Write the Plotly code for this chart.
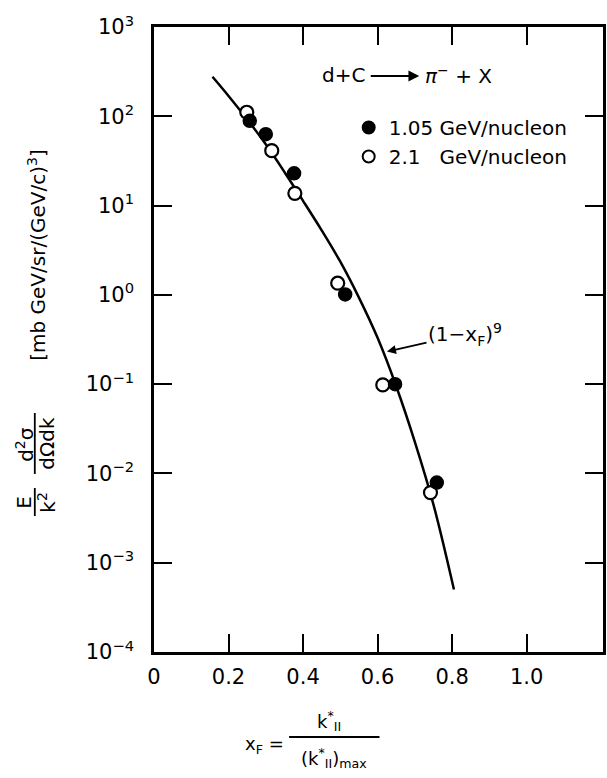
import plotly.graph_objects as go

# ---------------- data ----------------
# filled circles: 1.05 GeV/nucleon
xf_105 = [0.257, 0.300, 0.376, 0.513, 0.647, 0.759]
sig_105 = [89, 63, 23, 1.01, 0.100, 0.0079]
# open circles: 2.1 GeV/nucleon
xf_21 = [0.249, 0.316, 0.378, 0.493, 0.614, 0.742]
sig_21 = [111, 41.2, 13.7, 1.35, 0.098, 0.0061]
# curve (1 - x_F)^9
curve_x = [0.157, 0.20, 0.25, 0.30, 0.35, 0.40, 0.45, 0.50, 0.55, 0.60, 0.65, 0.70, 0.75, 0.805]
curve_y = [277, 169, 92.5, 48.5, 23.8, 11.3, 5.28, 2.35, 0.931, 0.330, 0.0948, 0.0226, 0.00448, 0.000501]

x_tickvals = [0, 0.2, 0.4, 0.6, 0.8, 1.0]
x_ticktext = ["0", "0.2", "0.4", "0.6", "0.8", "1.0"]
y_tickvals = [1e-4, 1e-3, 1e-2, 1e-1, 1e0, 1e1, 1e2, 1e3]
y_ticktext = ["10<sup>\u22124</sup>", "10<sup>\u22123</sup>", "10<sup>\u22122</sup>", "10<sup>\u22121</sup>",
              "10<sup>0</sup>", "10<sup>1</sup>", "10<sup>2</sup>", "10<sup>3</sup>"]

FONT = "DejaVu Sans"
W, H = 607, 778
L, R, T, B = 154, 1, 27, 126
PW, PH = W - L - R, H - T - B


def px(x):
    return (x - L) / PW


def py(y):
    return (H - B - y) / PH


fig = go.Figure()
fig.add_trace(go.Scatter(x=curve_x, y=curve_y, mode="lines", line=dict(color="black", width=2.5, shape="spline"),
                         showlegend=False, hoverinfo="skip"))
fig.add_trace(go.Scatter(x=xf_21, y=sig_21, mode="markers", name="2.1\u00a0\u00a0\u00a0GeV/nucleon",
                         marker=dict(symbol="circle", size=13, color="white", line=dict(color="black", width=2.2)),
                         legendrank=2))
fig.add_trace(go.Scatter(x=xf_105, y=sig_105, mode="markers", name="1.05 GeV/nucleon",
                         marker=dict(symbol="circle", size=13, color="black", line=dict(color="black", width=1.5)),
                         legendrank=1))

axis_common = dict(showline=True, linecolor="black", linewidth=2.5, mirror="ticks", ticks="inside",
                   ticklen=18, tickwidth=2, tickcolor="black", showgrid=False, zeroline=False,
                   tickfont=dict(family=FONT, size=21, color="black"))

fig.update_xaxes(range=[0.0, 1.205], tickvals=x_tickvals, ticktext=x_ticktext, ticklabelstandoff=4, **axis_common)
fig.update_yaxes(type="log", range=[-4, 3], tickvals=y_tickvals, ticktext=y_ticktext, ticklabelstandoff=13,
                 **axis_common)

ann = []
shapes = []
tf = dict(family=FONT, size=20, color="black")
C = dict(xanchor="center", yanchor="middle")
PAR = "II"

# reaction label
ann.append(dict(xref="paper", yref="paper", x=px(345), y=py(75), text="d+C", showarrow=False, font=tf, **C))
ann.append(dict(xref="paper", yref="paper", x=px(421), y=py(76), ax=-50, ay=0, text="", showarrow=True,
                arrowhead=2, arrowsize=1.2, arrowwidth=1.8, arrowcolor="black"))
ann.append(dict(xref="paper", yref="paper", x=px(461), y=py(75), text="<i>\u03c0</i><sup>\u2212</sup> + X",
                showarrow=False, font=tf, **C))

# curve label with arrow
ann.append(dict(x=0.620, y=-0.64, xref="x", yref="y", text="(1\u2212x<sub>F</sub>)<sup>9</sup>", showarrow=True,
                ax=80, ay=-18, arrowhead=2, arrowsize=1, arrowwidth=1.8, arrowcolor="black", standoff=2,
                font=tf, **C))

# x-axis title as fraction
ann.append(dict(xref="paper", yref="paper", x=px(265), y=py(745), text="x<sub>F</sub> =", showarrow=False,
                font=dict(family=FONT, size=18, color="black"), **C))
ann.append(dict(xref="paper", yref="paper", x=px(330), y=py(721), text="k<sup>*</sup><sub>" + PAR + "</sub>",
                showarrow=False, font=dict(family=FONT, size=18, color="black"), **C))
ann.append(dict(xref="paper", yref="paper", x=px(335), y=py(758),
                text="(k<sup>*</sup><sub>" + PAR + "</sub>)<sub>max</sub>", showarrow=False,
                font=dict(family=FONT, size=18, color="black"), **C))
shapes.append(dict(type="line", xref="paper", yref="paper", x0=px(290), x1=px(381), y0=py(737), y1=py(737),
                   line=dict(color="black", width=1.8)))

# y-axis title (rotated)
ann.append(dict(xref="paper", yref="paper", x=px(36), y=py(255),
                text="[mb GeV/sr/(GeV/c)<sup>3</sup>]", textangle=-90, showarrow=False, font=tf, **C))
ann.append(dict(xref="paper", yref="paper", x=px(23), y=py(502), text="E", textangle=-90, showarrow=False,
                font=tf, **C))
ann.append(dict(xref="paper", yref="paper", x=px(46), y=py(502), text="k<sup>2</sup>", textangle=-90,
                showarrow=False, font=tf, **C))
shapes.append(dict(type="line", xref="paper", yref="paper", x0=px(34), x1=px(34), y0=py(488), y1=py(516),
                   line=dict(color="black", width=1.8)))
ann.append(dict(xref="paper", yref="paper", x=px(24), y=py(444), text="d<sup>2</sup>\u03c3", textangle=-90,
                showarrow=False, font=tf, **C))
ann.append(dict(xref="paper", yref="paper", x=px(46), y=py(443), text="d\u03a9dk", textangle=-90,
                showarrow=False, font=tf, **C))
shapes.append(dict(type="line", xref="paper", yref="paper", x0=px(34), x1=px(34), y0=py(413), y1=py(474),
                   line=dict(color="black", width=1.8)))

fig.update_layout(
    width=W, height=H,
    margin=dict(l=L, r=R, t=T, b=B),
    paper_bgcolor="white", plot_bgcolor="white",
    font=dict(family=FONT, size=20, color="black"),
    annotations=ann, shapes=shapes,
    legend=dict(x=px(350), y=py(108), xanchor="left", yanchor="top", bgcolor="rgba(0,0,0,0)",
                font=dict(family=FONT, size=20, color="black"), tracegroupgap=15, itemsizing="constant",
                traceorder="normal"),
)

fig.write_html("out.html", config={"displayModeBar": False},
               post_script="document.body.style.margin='0';document.body.style.overflow='hidden';")
